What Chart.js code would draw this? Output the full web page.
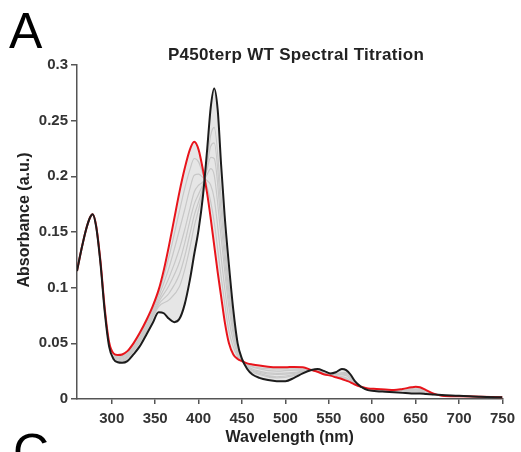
<!DOCTYPE html>
<html>
<head>
<meta charset="utf-8">
<title>P450terp WT Spectral Titration</title>
<script src="https://cdn.jsdelivr.net/npm/chart.js@4.4.1/dist/chart.umd.min.js"></script>
<style>
  html, body { margin: 0; padding: 0; background: #fff; }
  #wrap { width: 521px; height: 452px; position: relative; }
</style>
</head>
<body>
<div id="wrap"><canvas id="chart-canvas"></canvas></div>
<script>
// wavelength grid (nm) for the first and last spectra
var wavelengths = [260, 265, 270, 275, 278, 282, 287, 292, 297, 302, 307, 312, 318, 325, 332, 340, 347, 354, 360, 366,
    372, 378, 384, 390, 395, 400, 405, 410, 414, 418, 422, 426, 430, 435, 440, 445, 450, 456, 462, 470,
    480, 490, 500, 510, 520, 530, 537, 545, 552, 558, 565, 570, 575, 580, 587, 595, 605, 615, 625, 635,
    645, 650, 655, 662, 670, 680, 700, 725, 750];

// substrate free (black)
var absStart = [0.115, 0.134, 0.151, 0.163, 0.166, 0.155, 0.122, 0.078, 0.047, 0.036, 0.033, 0.0325, 0.034, 0.040, 0.047, 0.058, 0.068, 0.078, 0.077, 0.072,
    0.069, 0.072, 0.085, 0.107, 0.130, 0.152, 0.182, 0.225, 0.262, 0.279, 0.260, 0.210, 0.165, 0.120, 0.080, 0.050, 0.036, 0.027, 0.022, 0.019,
    0.017, 0.016, 0.016, 0.019, 0.023, 0.026, 0.027, 0.025, 0.023, 0.024, 0.027, 0.026, 0.022, 0.016, 0.011, 0.008, 0.007, 0.0065, 0.006, 0.0055,
    0.005, 0.005, 0.005, 0.0045, 0.004, 0.0035, 0.003, 0.002, 0.0015];

// saturated (red)
var absEnd = [0.115, 0.134, 0.151, 0.163, 0.166, 0.156, 0.124, 0.081, 0.051, 0.041, 0.0395, 0.040, 0.043, 0.050, 0.059, 0.071, 0.083, 0.098, 0.116, 0.138,
    0.162, 0.186, 0.207, 0.224, 0.231, 0.224, 0.206, 0.184, 0.162, 0.138, 0.114, 0.092, 0.070, 0.050, 0.040, 0.036, 0.034, 0.032, 0.031, 0.030,
    0.029, 0.0285, 0.0285, 0.0288, 0.0285, 0.026, 0.0245, 0.022, 0.021, 0.0195, 0.018, 0.0165, 0.015, 0.013, 0.011, 0.0095, 0.009, 0.0085, 0.008, 0.009,
    0.0105, 0.011, 0.0105, 0.008, 0.005, 0.003, 0.0025, 0.002, 0.0015];

// intermediate titration steps (grey)
var stepWavelengths = [302, 312, 325, 340, 354, 366, 378, 384, 390, 395, 400, 405, 410, 414, 418, 426, 435, 445, 456, 470, 490, 510, 530, 545, 558, 570, 580, 595, 615, 635, 650, 670];
var step1 = [0.037, 0.034, 0.043, 0.061, 0.083, 0.089, 0.101, 0.116, 0.136, 0.155, 0.170, 0.188, 0.215, 0.237, 0.244, 0.181, 0.103, 0.047, 0.028, 0.022, 0.019, 0.021, 0.026, 0.024, 0.023, 0.024, 0.015, 0.008, 0.007, 0.006, 0.0065, 0.004];
var step2 = [0.038, 0.035, 0.044, 0.062, 0.085, 0.095, 0.112, 0.128, 0.148, 0.165, 0.177, 0.190, 0.211, 0.227, 0.230, 0.169, 0.096, 0.045, 0.029, 0.023, 0.020, 0.022, 0.026, 0.024, 0.022, 0.023, 0.015, 0.009, 0.007, 0.007, 0.007, 0.004];
var step3 = [0.038, 0.036, 0.045, 0.064, 0.087, 0.102, 0.123, 0.140, 0.160, 0.175, 0.184, 0.193, 0.207, 0.217, 0.216, 0.157, 0.089, 0.044, 0.029, 0.024, 0.022, 0.023, 0.026, 0.024, 0.022, 0.022, 0.015, 0.009, 0.007, 0.007, 0.008, 0.004];
var step4 = [0.039, 0.037, 0.046, 0.065, 0.089, 0.109, 0.135, 0.152, 0.171, 0.186, 0.192, 0.195, 0.202, 0.207, 0.201, 0.145, 0.082, 0.042, 0.030, 0.025, 0.023, 0.024, 0.026, 0.023, 0.022, 0.021, 0.014, 0.009, 0.0075, 0.007, 0.0085, 0.004];
var step5 = [0.040, 0.038, 0.047, 0.067, 0.092, 0.118, 0.152, 0.170, 0.189, 0.201, 0.202, 0.199, 0.196, 0.192, 0.180, 0.127, 0.071, 0.040, 0.031, 0.027, 0.025, 0.026, 0.026, 0.023, 0.021, 0.019, 0.014, 0.009, 0.008, 0.008, 0.009, 0.004];
var step6 = [0.040, 0.039, 0.049, 0.069, 0.095, 0.128, 0.169, 0.189, 0.206, 0.216, 0.213, 0.202, 0.190, 0.177, 0.159, 0.110, 0.061, 0.038, 0.031, 0.028, 0.027, 0.027, 0.026, 0.022, 0.020, 0.018, 0.013, 0.009, 0.008, 0.008, 0.010, 0.004];

var xTicks = [300, 350, 400, 450, 500, 550, 600, 650, 700, 750];
var yTicks = [0, 0.05, 0.1, 0.15, 0.2, 0.25, 0.3];

var fontFamily = '"Liberation Sans", Arial, Helvetica, sans-serif';

function toPoints(xs, ys) {
    return xs.map(function (x, i) { return { x: x, y: ys[i] }; });
}

var greyDatasets = [step1, step2, step3, step4, step5, step6].map(function (s) {
    return {
        data: toPoints(stepWavelengths, s),
        borderColor: 'rgba(200,200,200,1)',
        borderWidth: 1.2,
        pointRadius: 0,
        fill: false,
        order: 2
    };
});

// panel letters, title and axis titles
var panelText = {
    id: 'panelText',
    afterDraw: function (chart) {
        var ctx = chart.ctx;
        var area = chart.chartArea;
        ctx.save();
        ctx.fillStyle = '#000';
        ctx.textAlign = 'left';
        ctx.textBaseline = 'alphabetic';
        ctx.font = '50px ' + fontFamily;
        ctx.fillText('A', 9, 48);
        ctx.fillText('C', 13, 469);

        ctx.fillStyle = '#222';
        ctx.textAlign = 'center';
        ctx.textBaseline = 'middle';
        ctx.font = 'bold 17px ' + fontFamily;
        ctx.letterSpacing = '0.3px';
        ctx.fillText('P450terp WT Spectral Titration', 296, 55);
        ctx.letterSpacing = '0px';

        ctx.font = 'bold 16px ' + fontFamily;
        ctx.fillText('Wavelength (nm)', (area.left + area.right) / 2, 438);

        ctx.translate(25, 220);
        ctx.rotate(-Math.PI / 2);
        ctx.fillText('Absorbance (a.u.)', 0, 0);
        ctx.restore();
    }
};

var axisColor = '#555';
var tickFont = { family: fontFamily, size: 15, weight: 'bold' };

new Chart(document.getElementById('chart-canvas'), {
    type: 'line',
    data: {
        datasets: [{
            data: toPoints(wavelengths, absStart),
            borderColor: '#1c1c1c',
            borderWidth: 2,
            pointRadius: 0,
            fill: { target: 1, above: 'rgba(210,210,210,0.55)', below: 'rgba(210,210,210,0.55)' },
            order: 0
        }, {
            data: toPoints(wavelengths, absEnd),
            borderColor: '#e8141b',
            borderWidth: 2,
            pointRadius: 0,
            fill: false,
            order: 1
        }].concat(greyDatasets)
    },
    options: {
        responsive: true,
        maintainAspectRatio: false,
        devicePixelRatio: 1,
        animation: false,
        layout: { padding: { left: 0, top: 65, right: 15, bottom: 0 } },
        plugins: {
            legend: { display: false },
            tooltip: { enabled: false },
            title: { display: false },
            filler: { drawTime: 'beforeDatasetsDraw' }
        },
        datasets: { line: { cubicInterpolationMode: 'monotone' } },
        scales: {
            x: {
                type: 'linear',
                min: 260,
                max: 750,
                border: { color: axisColor, width: 1.5 },
                grid: { drawOnChartArea: false, drawTicks: true, tickLength: 5, tickColor: axisColor, lineWidth: 1.5 },
                ticks: { font: tickFont, color: '#333', padding: 6, maxRotation: 0, autoSkip: false },
                afterBuildTicks: function (scale) {
                    scale.ticks = xTicks.map(function (v) { return { value: v }; });
                },
                afterFit: function (scale) { scale.height = 53; }
            },
            y: {
                min: 0,
                max: 0.3,
                border: { color: axisColor, width: 1.5 },
                grid: { drawOnChartArea: false, drawTicks: true, tickLength: 6, tickColor: axisColor, lineWidth: 1.5 },
                ticks: {
                    font: tickFont,
                    color: '#333',
                    padding: 3,
                    callback: function (v) { return String(v); }
                },
                afterBuildTicks: function (scale) {
                    scale.ticks = yTicks.map(function (v) { return { value: v }; });
                },
                afterFit: function (scale) { scale.width = 77; }
            }
        }
    },
    plugins: [panelText]
});
</script>
</body>
</html>
